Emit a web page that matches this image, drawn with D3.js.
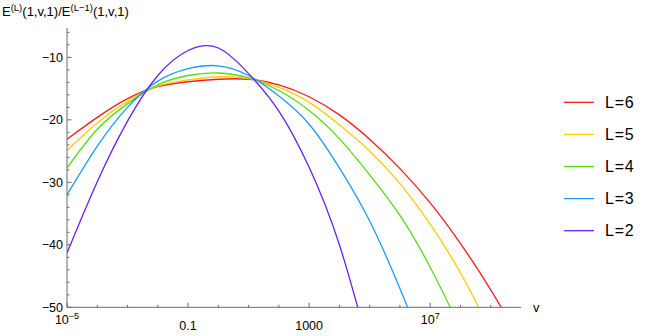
<!DOCTYPE html>
<html>
<head>
<meta charset="utf-8">
<script src="https://cdn.jsdelivr.net/npm/d3@7"></script>
<style>
  body { margin: 0; background: #fff; }
  text { font-family: "Liberation Sans", Arial, sans-serif; fill: #000; }
</style>
</head>
<body>
<script>
const vValues = [1e-5, 1e-4, 1e-3, 1e-2, 1e-1, 1, 10, 100, 1e3, 1e4, 1e5, 1e6, 1e7, 1e8, 1e9, 1e10];

const seriesNames = ["L=6", "L=5", "L=4", "L=3", "L=2"];
const seriesColors = ["#ff1a1a", "#ffcc00", "#55dd10", "#1a9cff", "#6a1ff0"];

const L6 = [-23.1, -19.6, -16.6, -14.7, -13.9, -13.5, -13.5, -14.4, -16.3, -19.2, -23.1, -27.8, -33.3, -39.8, -47.2, -55.5];
const L5 = [-24.9, -20.5, -17.0, -14.6, -13.6, -13.1, -13.4, -14.8, -17.2, -20.8, -25.0, -30.2, -36.7, -44.5, -53.8, null];
const L4 = [-27.7, -21.5, -17.4, -14.4, -12.9, -12.5, -13.3, -15.3, -18.5, -23.0, -28.8, -35.3, -43.6, -53.4, null, null];
const L3 = [-32.0, -24.2, -18.0, -13.8, -11.8, -11.35, -12.9, -16.2, -20.7, -27.7, -36.2, -47.0, -59.0, null, null, null];
const L2 = [-41.3, -29.9, -20.2, -12.9, -8.9, -8.5, -12.6, -18.6, -27.6, -40.0, -57.0, null, null, null, null, null];
const seriesValues = [L6, L5, L4, L3, L2];

const xTickLabels = [[1e-5, "10", "\u22125"], [0.1, "0.1", null], [1000, "1000", null], [1e7, "10", "7"]];
const yTickLabels = [-50, -40, -30, -20, -10];

const width = 648, height = 336;
const plot = {left: 67, right: 521, top: 28, bottom: 307.3};

const svg = d3.select("body").append("svg").attr("width", width).attr("height", height);

const xScale = d3.scaleLog().domain([1e-5, 1e10]).range([plot.left, plot.right]);
const yScale = d3.scaleLinear().domain([-50, -5.3]).range([plot.bottom, plot.top]);

const axisColor = "#6b6b6b";

// clip
svg.append("clipPath").attr("id", "plotclip")
   .append("rect")
   .attr("x", plot.left).attr("y", plot.top)
   .attr("width", plot.right - plot.left).attr("height", plot.bottom - plot.top);

// curves
const line = d3.line()
               .x(d => xScale(d[0]))
               .y(d => yScale(d[1]))
               .curve(d3.curveNatural);

const curves = svg.append("g").attr("clip-path", "url(#plotclip)");
seriesValues.forEach((vals, i) => {
  const pts = vValues.map((v, j) => [v, vals[j]]).filter(p => p[1] !== null);
  curves.append("path")
        .attr("fill", "none")
        .attr("stroke", seriesColors[i])
        .attr("stroke-width", 1.3)
        .attr("d", line(pts));
});

// y axis
const gy = svg.append("g");
gy.append("line").attr("x1", plot.left).attr("x2", plot.left)
  .attr("y1", plot.top).attr("y2", plot.bottom)
  .attr("stroke", axisColor).attr("stroke-width", 1);
d3.range(-50, -5, 2).forEach(t => {
  const major = t % 10 === 0;
  gy.append("line")
    .attr("x1", plot.left).attr("x2", plot.left + (major ? 4.5 : 2.5))
    .attr("y1", yScale(t)).attr("y2", yScale(t))
    .attr("stroke", axisColor).attr("stroke-width", 1);
});
gy.selectAll("text.ytick").data(yTickLabels).enter()
  .append("text").attr("class", "ytick")
  .attr("x", plot.left - 4).attr("y", d => yScale(d) + 4.5)
  .attr("text-anchor", "end").attr("font-size", 12.5)
  .text(d => "\u2212" + Math.abs(d));

// x axis
const gx = svg.append("g");
gx.append("line").attr("x1", plot.left).attr("x2", plot.right)
  .attr("y1", plot.bottom).attr("y2", plot.bottom)
  .attr("stroke", axisColor).attr("stroke-width", 1);
const labelled = xTickLabels.map(d => d[0]);
vValues.forEach(v => {
  if (v === 1e10) return;
  const major = labelled.some(l => Math.abs(Math.log10(l) - Math.log10(v)) < 1e-6);
  gx.append("line")
    .attr("x1", xScale(v)).attr("x2", xScale(v))
    .attr("y1", plot.bottom).attr("y2", plot.bottom - (major ? 4.5 : 2.5))
    .attr("stroke", axisColor).attr("stroke-width", 1);
});
xTickLabels.forEach(([v, base, sup]) => {
  const t = gx.append("text")
              .attr("x", xScale(v))
              .attr("y", sup ? 324 : 330)
              .attr("text-anchor", "middle")
              .attr("font-size", 12.5);
  t.append("tspan").text(base);
  if (sup) t.append("tspan").attr("font-size", 9).attr("dy", -5).text(sup);
});
gx.append("text").attr("x", 533).attr("y", 312).attr("font-size", 13).text("v");

// y axis title
const title = svg.append("text").attr("x", 2).attr("y", 16).attr("font-size", 13);
title.append("tspan").text("E");
title.append("tspan").attr("font-size", 9.5).attr("dy", -5).text("(L)");
title.append("tspan").attr("dy", 5).text("(1,v,1)/E");
title.append("tspan").attr("font-size", 9.5).attr("dy", -5).text("(L\u22121)");
title.append("tspan").attr("dy", 5).text("(1,v,1)");

// legend
const legend = svg.append("g");
seriesNames.forEach((name, i) => {
  const y = 102.3 + i * 32.1;
  legend.append("line").attr("x1", 564).attr("x2", 594).attr("y1", y).attr("y2", y)
        .attr("stroke", seriesColors[i]).attr("stroke-width", 1.3);
  legend.append("text").attr("x", 605).attr("y", y + 5.5)
        .attr("font-size", 16).attr("letter-spacing", 0.8).text(name);
});
</script>
</body>
</html>
